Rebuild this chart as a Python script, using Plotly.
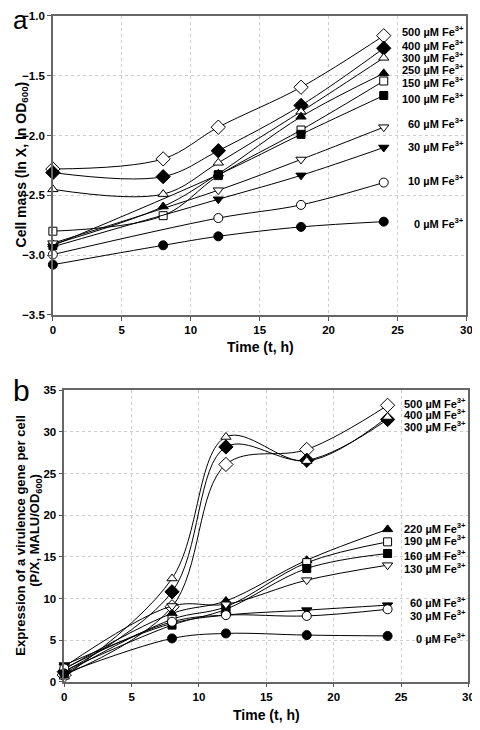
import plotly.graph_objects as go

# ---------------- Panel a data: cell mass (ln OD600) ----------------
time_a = [0, 8, 12, 18, 24]
time_a_short = [0, 12, 18, 24]
a_500 = [-2.28, -2.195, -1.93, -1.596, -1.165]
a_400 = [-2.31, -2.344, -2.127, -1.748, -1.27]
a_300 = [-2.45, -2.49, -2.228, -1.80, -1.35]
a_250 = [-2.91, -2.594, -2.32, -1.843, -1.48]
a_150 = [-2.80, -2.67, -2.335, -1.954, -1.544]
a_100 = [-2.92, -2.327, -1.99, -1.665]
a_60 = [-2.90, -2.457, -2.20, -1.93]
a_30 = [-2.93, -2.533, -2.333, -2.10]
a_10 = [-2.995, -2.69, -2.58, -2.393]
a_0 = [-3.08, -2.918, -2.843, -2.764, -2.72]

labels_a = ["500", "400", "300", "250", "150", "100", "60", "30", "10", "0"]
label_y_a = [-1.124, -1.242, -1.344, -1.44, -1.55, -1.687, -1.893, -2.086, -2.374, -2.731]

# ---------------- Panel b data: expression per cell ----------------
time_b = [0, 8, 12, 18, 24]
b_500 = [0.8, 9.0, 26.1, 27.9, 33.2]
b_400 = [1.2, 10.8, 28.2, 26.6, 31.5]
b_300 = [0.6, 12.4, 29.4, 26.5, 31.8]
b_220 = [1.5, 8.2, 9.7, 14.6, 18.3]
b_190 = [1.0, 7.5, 9.0, 14.3, 16.8]
b_160 = [1.3, 6.8, 8.7, 13.6, 15.4]
b_130 = [1.8, 9.1, 9.3, 12.2, 14.0]
b_60 = [2.0, 7.0, 8.0, 8.6, 9.2]
b_30 = [1.6, 7.2, 8.0, 7.9, 8.7]
b_0 = [1.0, 5.2, 5.8, 5.6, 5.5]

labels_b = ["500", "400", "300", "220", "190", "160", "130", "60", "30", "0"]
label_y_b = [33.5, 32.2, 30.7, 18.5, 17.0, 15.2, 13.7, 9.6, 8.0, 5.28]

x_ticks = [0, 5, 10, 15, 20, 25, 30]

# marker styles (symbol, filled)
styles = [
    ("diamond", False), ("diamond", True), ("triangle-up", False), ("triangle-up", True),
    ("square", False), ("square", True), ("triangle-down", False), ("triangle-down", True),
    ("circle", False), ("circle", True),
]
sizes = {"diamond": 11, "triangle-up": 9, "triangle-down": 9, "square": 8, "circle": 9}

FONT = "Liberation Sans, Arial, sans-serif"

# the page body has an 8px margin: the figure starts 8px in from the window corner
OFF = 8
W, H = 480 - OFF, 730 - OFF


def px_x(p):
    return (p - OFF) / W


def px_y(p):
    return 1 - (p - OFF) / H


fig = go.Figure()

series_a = [
    (time_a, a_500), (time_a, a_400), (time_a, a_300), (time_a, a_250), (time_a, a_150),
    (time_a_short, a_100), (time_a_short, a_60), (time_a_short, a_30), (time_a_short, a_10),
    (time_a, a_0),
]
series_b = [b_500, b_400, b_300, b_220, b_190, b_160, b_130, b_60, b_30, b_0]


def add_series(xs, ys, style, xa, ya, name):
    sym, filled = style
    fig.add_trace(go.Scatter(
        x=xs, y=ys, mode="lines+markers", name=name, showlegend=False,
        xaxis=xa, yaxis=ya, cliponaxis=False,
        line=dict(color="black", width=1, shape="spline", smoothing=1.0),
        marker=dict(symbol=sym, size=sizes[sym],
                    color="black" if filled else "white",
                    line=dict(color="black", width=1)),
    ))


for (xs, ys), st, lab in zip(series_a, styles, labels_a):
    add_series(xs, ys, st, "x", "y", lab + " µM")
for ys, st, lab in zip(series_b, styles, labels_b):
    add_series(time_b, ys, st, "x2", "y2", lab + " µM")

lab_font = dict(family=FONT, size=11, color="black", weight="bold")
annotations = []
for lab, ly in zip(labels_a, label_y_a):
    annotations.append(dict(x=30, y=ly, xref="x", yref="y", xanchor="right", yanchor="middle",
                            text=f"{lab} µM Fe<sup>3+</sup>", showarrow=False, font=lab_font))
for lab, ly in zip(labels_b, label_y_b):
    annotations.append(dict(x=30, y=ly, xref="x2", yref="y2", xanchor="right", yanchor="middle",
                            text=f"{lab} µM Fe<sup>3+</sup>", showarrow=False, font=lab_font))

# panel letters
annotations.append(dict(x=0.0, y=px_y(14), xref="paper", yref="paper", xanchor="left", yanchor="middle",
                        text="a", showarrow=False, font=dict(family=FONT, size=26, color="black")))
annotations.append(dict(x=0.0, y=px_y(391), xref="paper", yref="paper", xanchor="left", yanchor="middle",
                        text="b", showarrow=False, font=dict(family=FONT, size=30, color="black")))

title_font = dict(family=FONT, size=14, color="black", weight="bold")
# axis titles
annotations.append(dict(x=px_x(262), y=px_y(346.7), xref="paper", yref="paper",
                        xanchor="center", yanchor="middle", text="Time (t, h)", showarrow=False,
                        font=title_font))
annotations.append(dict(x=px_x(268), y=px_y(721), xref="paper", yref="paper",
                        xanchor="center", yanchor="middle", text="Time (t, h)", showarrow=False,
                        font=title_font))
annotations.append(dict(x=0.0, y=px_y(161), xref="paper", yref="paper", xanchor="left", yanchor="middle",
                        text="Cell mass (ln X, ln OD<sub>600</sub>)", textangle=-90, showarrow=False,
                        font=title_font))
annotations.append(dict(x=0.0, y=px_y(538), xref="paper", yref="paper", xanchor="left", yanchor="middle",
                        text="Expression of a virulence gene per cell", textangle=-90, showarrow=False,
                        font=dict(family=FONT, size=13, color="black", weight="bold")))
annotations.append(dict(x=px_x(33), y=px_y(533), xref="paper", yref="paper", xanchor="center", yanchor="middle",
                        text="(P/X, MALU/OD<sub>600</sub>)", textangle=-90, showarrow=False,
                        font=dict(family=FONT, size=13, color="black", weight="bold")))

axis_common = dict(
    showline=True, linecolor="#666666", linewidth=1.5, mirror=True,
    showgrid=True, gridcolor="#cccccc", griddash="dot", gridwidth=1,
    zeroline=False, ticks="outside", ticklen=4, tickcolor="#555555",
    tickfont=dict(family=FONT, size=11.5, color="black", weight="bold"),
)

fig.update_layout(
    width=W, height=H,
    margin=dict(l=0, r=0, t=0, b=0),
    paper_bgcolor="white", plot_bgcolor="white",
    annotations=annotations,
    xaxis=dict(axis_common, domain=[px_x(50.7), px_x(472.3)], range=[0, 30], tickvals=x_ticks,
               anchor="y"),
    yaxis=dict(axis_common, domain=[px_y(314), px_y(10)], range=[-3.5, -1.0], dtick=0.5,
               tickformat=".1f", anchor="x"),
    xaxis2=dict(axis_common, domain=[px_x(62.3), px_x(474.3)], range=[0, 30], tickvals=x_ticks,
                anchor="y2"),
    yaxis2=dict(axis_common, domain=[px_y(687), px_y(390.7)], range=[0, 35], dtick=5,
                anchor="x2"),
)

fig.write_html("out.html")
